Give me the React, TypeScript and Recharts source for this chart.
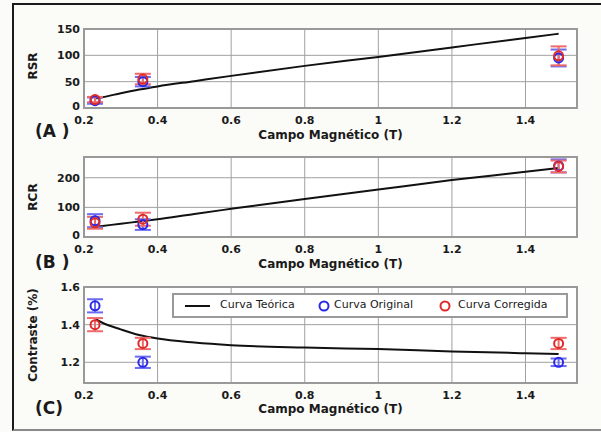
import React from "react";
import {
  ComposedChart,
  Line,
  Scatter,
  ErrorBar,
  XAxis,
  YAxis,
  CartesianGrid,
  ReferenceArea,
} from "recharts";

const fieldT = [0.23, 0.36, 1.49];
const theoryField = [0.23, 0.25, 0.3, 0.35, 0.4, 0.5, 0.6, 0.8, 1.0, 1.2, 1.4, 1.49];
const xTicks = [0.2, 0.4, 0.6, 0.8, 1, 1.2, 1.4];

const rsrOriginal = [14, 50, 95];
const rsrOriginalErr = [6, 9, 16];
const rsrCorrected = [16, 55, 99];
const rsrCorrectedErr = [5, 10, 18];
const rsrTheory = [18, 20.5, 28, 35, 41, 51, 61, 80, 97, 115, 133, 141];
const rsrTicks = [0, 50, 100, 150];

const rcrOriginal = [55, 42, 240];
const rcrOriginalErr = [22, 18, 22];
const rcrCorrected = [48, 60, 238];
const rcrCorrectedErr = [20, 22, 20];
const rcrTheory = [34, 37, 45, 52, 60, 78, 95, 128, 160, 192, 220, 233];
const rcrTicks = [0, 100, 200];

const contrastOriginal = [1.5, 1.2, 1.2];
const contrastOriginalErr = [0.035, 0.03, 0.02];
const contrastCorrected = [1.4, 1.3, 1.3];
const contrastCorrectedErr = [0.035, 0.03, 0.03];
const contrastTheory = [1.43, 1.41, 1.375, 1.345, 1.326, 1.305, 1.291, 1.278, 1.27, 1.258, 1.248, 1.244];
const contrastTicks = [1.2, 1.4, 1.6];

const BLUE = "#2a2ae6";
const BLUE_BAR = "#6b6bf2";
const RED = "#e02a2a";
const RED_BAR = "#ee6b6b";
const FONT = "'DejaVu Sans', Verdana, sans-serif";
const X_MAX = 1.54;

const points = (ys: number[], errs: number[]) =>
  fieldT.map((x, i) => ({ x, y: ys[i], err: errs[i] }));
const curve = (ys: number[]) => theoryField.map((x, i) => ({ x, y: ys[i] }));

const ring = (color: string) => (props: any) => (
  <circle cx={props.cx} cy={props.cy} r={4.5} fill="none" stroke={color} strokeWidth={2} />
);

// y tick text; the lowest one sits a little higher so it clears the "0.2" below
const yTick = (lowest: number) => (props: any) => {
  const { x, y, payload } = props;
  const lift = payload.value === lowest ? -2 : 0;
  return (
    <text
      x={x}
      y={y + lift}
      dy="0.355em"
      textAnchor="end"
      fontSize={11}
      fontWeight="bold"
      fill="#1a1a1a"
      fontFamily={FONT}
    >
      {payload.value}
    </text>
  );
};

interface PanelProps {
  top: number;
  plotHeight: number;
  domain: [number, number];
  ticks: number[];
  theory: number[];
  original: number[];
  originalErr: number[];
  corrected: number[];
  correctedErr: number[];
}

function Panel({ top, plotHeight, domain, ticks, theory, original, originalErr, corrected, correctedErr }: PanelProps) {
  const tickStyle = { fontSize: 11, fontWeight: "bold" as const, fill: "#1a1a1a", fontFamily: FONT };
  return (
    <div style={{ position: "absolute", left: 0, top }}>
      <ComposedChart
        width={601}
        height={29 + plotHeight + 24}
        margin={{ top: 29, right: 24, bottom: 0, left: 44 }}
      >
        <CartesianGrid stroke="#a0a0a0" strokeWidth={1} fill="#ffffff" />
        <XAxis
          type="number"
          dataKey="x"
          domain={[0.2, X_MAX]}
          ticks={xTicks}
          allowDataOverflow
          tick={tickStyle}
          axisLine={false}
          tickLine={false}
          tickSize={2}
          tickMargin={6}
          height={24}
          tickFormatter={(v: number) => String(v)}
        />
        <YAxis
          type="number"
          dataKey="y"
          domain={domain}
          ticks={ticks}
          allowDataOverflow
          tick={yTick(ticks[0] === domain[0] ? ticks[0] : NaN)}
          axisLine={false}
          tickLine={false}
          tickSize={2}
          tickMargin={2}
          width={40}
        />
        <ReferenceArea
          x1={0.2}
          x2={X_MAX}
          y1={domain[0]}
          y2={domain[1]}
          fill="none"
          stroke="#999999"
          strokeWidth={2}
        />
        <Line
          data={curve(theory)}
          dataKey="y"
          type="monotone"
          stroke="#111111"
          strokeWidth={2}
          dot={false}
          isAnimationActive={false}
        />
        <Scatter data={points(original, originalErr)} dataKey="y" shape={ring(BLUE)} isAnimationActive={false}>
          <ErrorBar dataKey="err" direction="y" width={8} stroke={BLUE_BAR} strokeWidth={2} isAnimationActive={false} />
        </Scatter>
        <Scatter data={points(corrected, correctedErr)} dataKey="y" shape={ring(RED)} isAnimationActive={false}>
          <ErrorBar dataKey="err" direction="y" width={8} stroke={RED_BAR} strokeWidth={2} isAnimationActive={false} />
        </Scatter>
      </ComposedChart>
    </div>
  );
}

const labelStyle: React.CSSProperties = {
  position: "absolute",
  fontFamily: FONT,
  fontWeight: "bold",
  fontSize: 12,
  color: "#1a1a1a",
  whiteSpace: "nowrap",
};

function XLabel({ top }: { top: number }) {
  return (
    <div style={{ ...labelStyle, left: 0, width: 661, textAlign: "center", top }}>
      Campo Magnético (T)
    </div>
  );
}

function PanelTag({ top, text }: { top: number; text: string }) {
  return <div style={{ ...labelStyle, left: 35, top, fontSize: 17 }}>{text}</div>;
}

function YLabel({ centerY, text }: { centerY: number; text: string }) {
  return (
    <div
      style={{
        ...labelStyle,
        left: 33,
        top: centerY,
        transform: "translate(-50%, -50%) rotate(-90deg)",
      }}
    >
      {text}
    </div>
  );
}

export default function App() {
  return (
    <div
      style={{
        position: "absolute",
        left: 0,
        top: 0,
        width: 601,
        height: 432,
        background: "#fbfbf8",
        overflow: "hidden",
      }}
    >
      <div
        style={{
          position: "absolute",
          left: 12,
          top: 3,
          width: 600,
          height: 424,
          borderTop: "2px solid #1a1a1a",
          borderLeft: "2px solid #1a1a1a",
          borderBottom: "2px solid #8a8a8a",
        }}
      />
      <Panel
        top={0}
        plotHeight={79}
        domain={[0, 150]}
        ticks={rsrTicks}
        theory={rsrTheory}
        original={rsrOriginal}
        originalErr={rsrOriginalErr}
        corrected={rsrCorrected}
        correctedErr={rsrCorrectedErr}
      />
      <Panel
        top={128}
        plotHeight={80}
        domain={[0, 270]}
        ticks={rcrTicks}
        theory={rcrTheory}
        original={rcrOriginal}
        originalErr={rcrOriginalErr}
        corrected={rcrCorrected}
        correctedErr={rcrCorrectedErr}
      />
      <Panel
        top={258}
        plotHeight={96}
        domain={[1.09, 1.6]}
        ticks={contrastTicks}
        theory={contrastTheory}
        original={contrastOriginal}
        originalErr={contrastOriginalErr}
        corrected={contrastCorrected}
        correctedErr={contrastCorrectedErr}
      />

      <YLabel centerY={66} text="RSR" />
      <YLabel centerY={197} text="RCR" />
      <YLabel centerY={335} text="Contraste (%)" />
      <PanelTag top={121} text="(A )" />
      <PanelTag top={252} text="(B )" />
      <PanelTag top={398} text="(C)" />
      <XLabel top={128} />
      <XLabel top={257} />
      <XLabel top={402} />

      <div
        style={{
          position: "absolute",
          left: 172,
          top: 293,
          width: 392,
          height: 21,
          background: "#ffffff",
          border: "2px solid #9a9a9a",
          fontFamily: FONT,
          fontSize: 11,
          color: "#1a1a1a",
        }}
      >
        <svg width={392} height={21} style={{ position: "absolute", left: 0, top: 0 }}>
          <line x1={11} y1={11} x2={36} y2={11} stroke="#111111" strokeWidth={2} />
          <circle cx={150} cy={11} r={4.5} fill="none" stroke={BLUE} strokeWidth={2} />
          <circle cx={271} cy={11} r={4.5} fill="none" stroke={RED} strokeWidth={2} />
        </svg>
        <span style={{ position: "absolute", left: 46, top: 3 }}>Curva Teórica</span>
        <span style={{ position: "absolute", left: 160, top: 3 }}>Curva Original</span>
        <span style={{ position: "absolute", left: 284, top: 3 }}>Curva Corregida</span>
      </div>
    </div>
  );
}
